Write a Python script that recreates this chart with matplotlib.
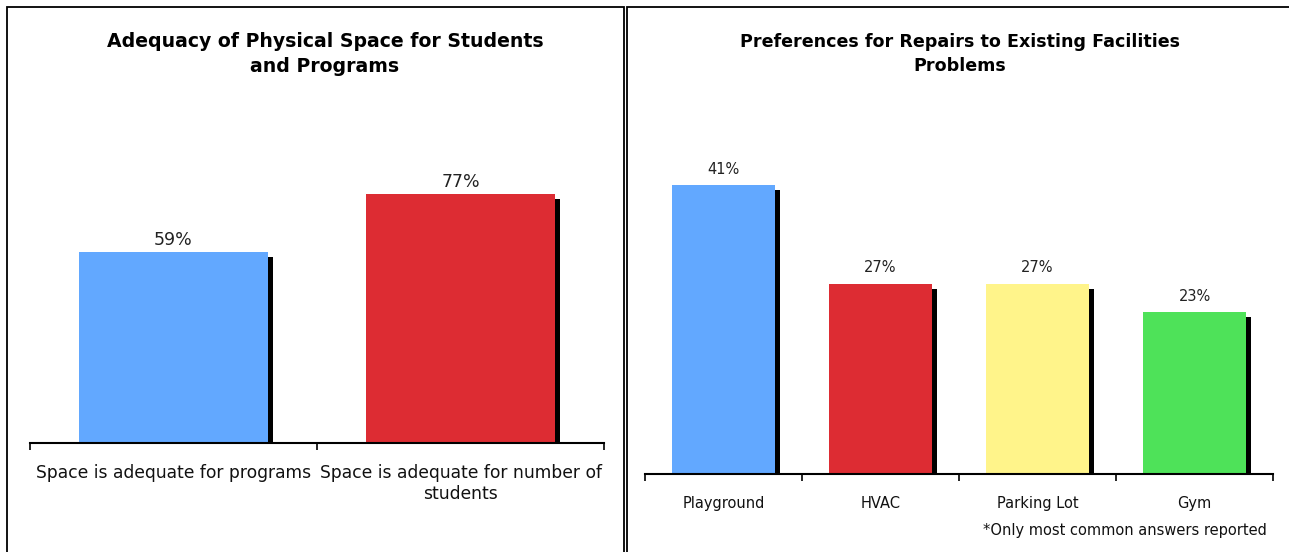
import matplotlib
matplotlib.use("Agg")
import matplotlib.pyplot as plt
from matplotlib.patches import Rectangle
from matplotlib.transforms import ScaledTranslation

# survey results
space_labels = ["Space is adequate for programs", "Space is adequate for number of\nstudents"]
space_values = [59, 77]
space_colors = ["#62a8ff", "#dd2c33"]

repair_labels = ["Playground", "HVAC", "Parking Lot", "Gym"]
repair_values = [41, 27, 27, 23]
repair_colors = ["#62a8ff", "#dd2c33", "#fff48a", "#4ee259"]

plt.rcParams['font.family'] = 'DejaVu Sans'

W, H = 1289, 552
fig = plt.figure(figsize=(W / 100, H / 100), dpi=100)


def px_axes(x0, x1, y_base, y_top):
    # axes placed by pixel coords (y measured from the top)
    return fig.add_axes([x0 / W, 1 - y_base / H, (x1 - x0) / W, (y_base - y_top) / H])


def shadow_bars(ax, values, colors, width, label_size, label_pad):
    n = len(values)
    x = list(range(n))
    shift = ax.transData + ScaledTranslation(5 / 100, -5 / 100, fig.dpi_scale_trans)
    ax.bar(x, values, width=width, color="black", transform=shift, zorder=1)
    bars = ax.bar(x, values, width=width, color=colors, zorder=2)
    for b, v in zip(bars, values):
        ax.annotate(f"{v}%", (b.get_x() + b.get_width() / 2, v),
                    xytext=(0, label_pad), textcoords="offset points",
                    ha="center", va="bottom", fontsize=label_size, color="#222222")
    ax.set_xlim(-0.5, n - 0.5)
    for s in ["top", "left", "right"]:
        ax.spines[s].set_visible(False)
    ax.spines["bottom"].set_linewidth(1.5)
    ax.set_yticks([])
    ax.set_xticks(x)
    ax.set_xticks([i - 0.5 for i in range(n + 1)], minor=True)
    ax.tick_params(axis="x", which="major", length=0)
    ax.tick_params(axis="x", which="minor", length=5, width=1.2, direction="out")


# left chart
ax1 = px_axes(30, 604, 443, 119)
ax1.set_ylim(0, 100)
shadow_bars(ax1, space_values, space_colors, 0.66, 12.5, 2)
ax1.set_xticklabels(space_labels, fontsize=12.3, color="#111111", multialignment="center")
ax1.tick_params(axis="x", which="major", pad=15)
fig.text(325 / W, 1 - 54 / H, "Adequacy of Physical Space for Students\nand Programs",
         ha="center", va="center", fontsize=13.6, fontweight="bold", linespacing=1.35)

# right chart
ax2 = px_axes(645, 1273, 474, 121.5)
ax2.set_ylim(0, 50)
shadow_bars(ax2, repair_values, repair_colors, 0.66, 10.5, 6)
ax2.set_xticklabels(repair_labels, fontsize=10.5, color="#111111")
ax2.tick_params(axis="x", which="major", pad=16)
fig.text(960 / W, 1 - 54 / H, "Preferences for Repairs to Existing Facilities\nProblems",
         ha="center", va="center", fontsize=12.6, fontweight="bold", linespacing=1.45)
fig.text(1267 / W, 1 - 530 / H, "*Only most common answers reported",
         ha="right", va="center", fontsize=10.5, color="#111111")

# panel borders
for x0, x1 in [(6.5, 623.5), (626.5, 1300)]:
    fig.add_artist(Rectangle((x0 / W, -0.1), (x1 - x0) / W, 1.1 - 7.5 / H,
                             transform=fig.transFigure, fill=False,
                             edgecolor="black", linewidth=1.3, clip_on=False))

fig.savefig("out.png", dpi=100)
